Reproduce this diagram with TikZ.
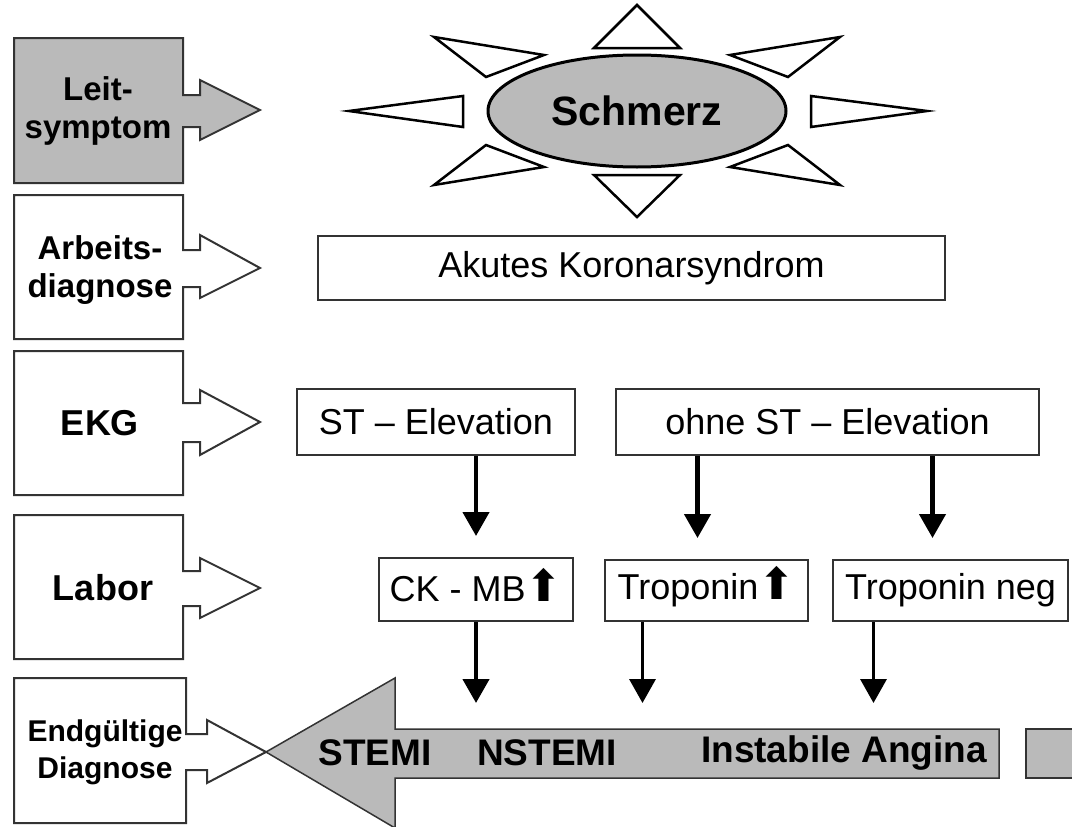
\documentclass[tikz,border=0pt]{standalone}
\usepackage{fontspec}
\setmainfont{Liberation Sans}
\newfontfamily\pfeilfont{DejaVu Sans}
\usetikzlibrary{arrows.meta, positioning, shapes.geometric}

\begin{document}
\begin{tikzpicture}[x=1pt, y=-1pt,
  rand/.style={draw=black!80, line width=2pt, line join=miter},
  stufe/.style={rand, fill=white},
  stufegrau/.style={rand, fill=black!27},
  etikett/.style={font=\fontsize{33}{38}\selectfont\bfseries, align=center, inner sep=0pt},
  kasten/.style={draw=black!80, line width=2pt, fill=white, inner sep=0pt, font=\fontsize{36}{40}\selectfont},
  strahl/.style={draw=black, line width=2.5pt, fill=white, line join=miter},
  schmerzbox/.style={ellipse, draw=black, line width=3pt, fill=black!27, inner sep=0pt,
    minimum width=298pt, minimum height=112pt, font=\fontsize{41}{44}\selectfont\bfseries},
  diagtext/.style={font=\fontsize{37}{40}\selectfont\bfseries, inner sep=0pt},
  pfeil/.style={-{Triangle[width=26pt,length=24pt]}, line width=4.5pt},
  pfeilduenn/.style={-{Triangle[width=26pt,length=24pt]}, line width=3.5pt}]
\useasboundingbox (0,0) rectangle (1072,827);
% linke Spalte
\draw[stufegrau] (14,38) -- (183,38) -- (183,95) -- (200,95) -- (200,80) -- (260,110) -- (200,140)
  -- (200,127) -- (183,127) -- (183,183) -- (14,183) -- cycle;
\draw[stufe] (14,195) -- (183,195) -- (183,250) -- (200,250) -- (200,235) -- (260,268) -- (200,298)
  -- (200,287) -- (183,287) -- (183,339) -- (14,339) -- cycle;
\draw[stufe] (14,351) -- (183,351) -- (183,403) -- (200,403) -- (200,390) -- (260,422) -- (200,455)
  -- (200,442) -- (183,442) -- (183,495) -- (14,495) -- cycle;
\draw[stufe] (14,515) -- (183,515) -- (183,571) -- (200,571) -- (200,558) -- (260,588) -- (200,618)
  -- (200,606) -- (183,606) -- (183,659) -- (14,659) -- cycle;
\draw[stufe] (14,678) -- (186,678) -- (186,734) -- (207,734) -- (207,720) -- (266,752) -- (207,783)
  -- (207,770) -- (186,770) -- (186,823) -- (14,823) -- cycle;
\node[etikett] (leit) at (98,111) {Leit-\\symptom};
\node[etikett] (arbeit) at (100,270) {Arbeits-\\diagnose};
\node[etikett, font=\fontsize{36}{40}\selectfont\bfseries] (ekg) at (100,423) {EKG};
\node[etikett, font=\fontsize{36}{40}\selectfont\bfseries] (labor) at (103,588) {Labor};
\node[etikett, font=\fontsize{30}{37}\selectfont\bfseries] (endg) at (105,752) {Endgültige\\Diagnose};
% Sonne
\draw[strahl] (594,48) -- (680,48) -- (637,5) -- cycle;
\draw[strahl] (594,175) -- (680,175) -- (637,217) -- cycle;
\draw[strahl] (463,96) -- (463,127) -- (349,111) -- cycle;
\draw[strahl] (811,96) -- (811,127) -- (927,111) -- cycle;
\draw[strahl] (544,55) -- (486,77) -- (434,37) -- cycle;
\draw[strahl] (730,55) -- (788,77) -- (840,37) -- cycle;
\draw[strahl] (544,167) -- (486,145) -- (434,185) -- cycle;
\draw[strahl] (730,167) -- (788,145) -- (840,185) -- cycle;
\node[schmerzbox] (schmerz) at (637,111) {Schmerz};
% Kaesten
\node[kasten, minimum width=627pt, minimum height=64pt] (acs) at (631.5,268) {Akutes Koronarsyndrom};
\node[kasten, minimum width=278pt, minimum height=66pt] (stE) at (436,422) {ST -- Elevation};
\node[kasten, minimum width=423pt, minimum height=66pt] (nstE) at (827.5,422) {ohne ST -- Elevation};
\node[kasten, minimum width=194pt, minimum height=63pt] (ckmb) at (476,589.5) {CK - MB{\pfeilfont\fontsize{44}{40}\selectfont\smash{⬆}}};
\node[kasten, minimum width=203pt, minimum height=61pt] (tropp) at (706.5,590.5) {Troponin{\pfeilfont\fontsize{44}{40}\selectfont\smash{⬆}}};
\node[kasten, minimum width=235pt, minimum height=61pt] (tropn) at (950.5,590.5) {Troponin neg};
% Diagnosepfeil
\draw[draw=black!80, line width=1.5pt, fill=black!27, line join=miter] (266,752) -- (395,678) -- (395,729)
  -- (999,729) -- (999,778) -- (395,778) -- (395,828) -- cycle;
\draw[draw=black!80, line width=2pt, fill=black!27] (1026,729) rectangle (1090,778);
\coordinate (schaft) at (0,729);
\node[diagtext] (stemi) at (375,753) {STEMI};
\node[diagtext] (nstemi) at (547,753) {NSTEMI};
\node[diagtext] (ia) at (844,753) {Instabile Angina};
\draw[pfeil, shorten >=21pt] (ckmb.north |- stE.south) -- (ckmb.north);
\draw[pfeil, shorten >=21pt] ([xshift=-9pt]tropp.north |- nstE.south) -- ([xshift=-9pt]tropp.north);
\draw[pfeil, shorten >=21pt] ([xshift=-18pt]tropn.north |- nstE.south) -- ([xshift=-18pt]tropn.north);
\draw[pfeil, shorten >=26pt] (ckmb.south) -- (ckmb.south |- schaft);
\draw[pfeilduenn, shorten >=26pt] ([xshift=-64pt]tropp.south) -- ([xshift=-64pt]tropp.south |- schaft);
\draw[pfeilduenn, shorten >=26pt] ([xshift=-77pt]tropn.south) -- ([xshift=-77pt]tropn.south |- schaft);
\end{tikzpicture}
\end{document}
